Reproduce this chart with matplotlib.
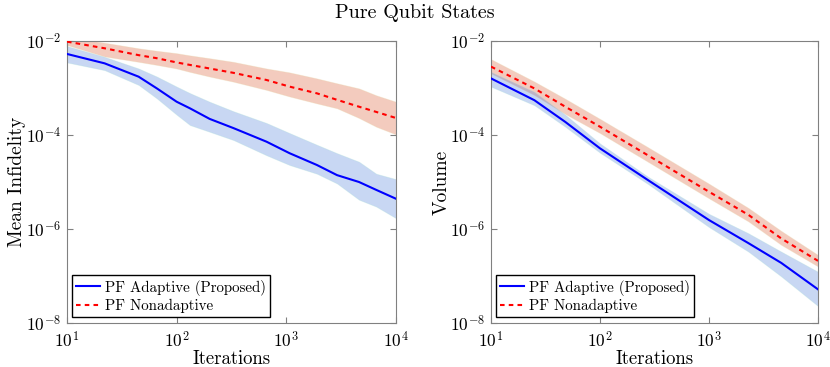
import math
import matplotlib
matplotlib.use("Agg")
import matplotlib.pyplot as plt
from matplotlib.ticker import FixedLocator, FuncFormatter, NullLocator

plt.rcParams['font.family'] = ['cmr10', 'DejaVu Serif']
plt.rcParams['mathtext.fontset'] = 'cm'
plt.rcParams['axes.formatter.use_mathtext'] = True

# ---- data: left panel (Mean Infidelity) ----
iters_l = [10, 22, 45, 66, 100, 132, 200, 330, 660, 1070, 1900, 2900, 4600, 6600, 10000]
adaptive_l = [5.3e-3, 3.35e-3, 1.74e-3, 9.8e-4, 5.1e-4, 3.7e-4, 2.2e-4, 1.4e-4,
              7.2e-5, 4.1e-5, 2.3e-5, 1.4e-5, 1.0e-5, 6.8e-6, 4.4e-6]
adaptive_l_hi = [7.8e-3, 4.6e-3, 2.6e-3, 1.75e-3, 1.07e-3, 7.8e-4, 5.1e-4, 3.2e-4,
                 1.8e-4, 1.1e-4, 6.2e-5, 4.1e-5, 2.7e-5, 1.5e-5, 1.15e-5]
adaptive_l_lo = [3.5e-3, 2.4e-3, 1.16e-3, 6.0e-4, 2.7e-4, 1.63e-4, 1.17e-4, 7.8e-5,
                 3.7e-5, 2.3e-5, 1.5e-5, 9.3e-6, 4.2e-6, 3.0e-6, 1.7e-6]
nonadapt_l = [9.7e-3, 7.0e-3, 5.0e-3, 4.3e-3, 3.5e-3, 3.1e-3, 2.6e-3, 2.1e-3,
              1.48e-3, 1.07e-3, 7.7e-4, 5.6e-4, 4.0e-4, 3.1e-4, 2.3e-4]
nonadapt_l_hi = [1.2e-2, 9.2e-3, 7.0e-3, 6.2e-3, 5.5e-3, 4.95e-3, 4.3e-3, 3.6e-3,
                 2.6e-3, 2.15e-3, 1.6e-3, 1.26e-3, 9.8e-4, 7.0e-4, 5.1e-4]
nonadapt_l_lo = [8.2e-3, 4.7e-3, 3.6e-3, 3.1e-3, 2.6e-3, 2.2e-3, 1.75e-3, 1.36e-3,
                 9.1e-4, 6.6e-4, 4.7e-4, 3.7e-4, 2.3e-4, 1.5e-4, 1.03e-4]

# ---- data: right panel (Volume) ----
iters_r = [10, 25, 48, 100, 275, 1000, 2300, 4600, 10000]
adaptive_r = [1.6e-3, 5.5e-4, 1.9e-4, 5.2e-5, 1.1e-5, 1.55e-6, 5.0e-7, 1.9e-7, 5.2e-8]
adaptive_r_hi = [2.2e-3, 8.3e-4, 2.7e-4, 6.6e-5, 1.3e-5, 2.1e-6, 8.1e-7, 3.3e-7, 1.23e-7]
adaptive_r_lo = [1.07e-3, 4.3e-4, 1.5e-4, 4.2e-5, 9.1e-6, 1.1e-6, 3.3e-7, 9.8e-8, 2.3e-8]
nonadapt_r = [2.85e-3, 9.8e-4, 4.0e-4, 1.5e-4, 3.7e-5, 6.2e-6, 2.0e-6, 6.3e-7, 2.1e-7]
nonadapt_r_hi = [4.1e-3, 1.37e-3, 5.9e-4, 2.2e-4, 5.5e-5, 9.2e-6, 2.8e-6, 9.1e-7, 2.8e-7]
nonadapt_r_lo = [2.05e-3, 7.1e-4, 2.8e-4, 1.1e-4, 2.7e-5, 4.5e-6, 1.45e-6, 4.6e-7, 1.6e-7]

title = "Pure Qubit States"
xlabel = "Iterations"
ylabels = ["Mean Infidelity", "Volume"]
legend_labels = ["PF Adaptive (Proposed)", "PF Nonadaptive"]
xticks = [1e1, 1e2, 1e3, 1e4]
yticks = [1e-8, 1e-6, 1e-4, 1e-2]

BLUE = '#0000ff'
RED = '#ff0000'
BLUE_FILL = '#4a7bd8'
RED_FILL = '#d9542a'
SPINE = '#808080'

fig = plt.figure(figsize=(8.3, 3.67), dpi=100)
ax1 = fig.add_axes([67/830, 44/367, 329/830, 282/367])
ax2 = fig.add_axes([491/830, 44/367, 327/830, 282/367])

panels = [
    (ax1, iters_l, adaptive_l, adaptive_l_lo, adaptive_l_hi, nonadapt_l, nonadapt_l_lo, nonadapt_l_hi),
    (ax2, iters_r, adaptive_r, adaptive_r_lo, adaptive_r_hi, nonadapt_r, nonadapt_r_lo, nonadapt_r_hi),
]

fmt = FuncFormatter(lambda v, p: r'$10^{%d}$' % round(math.log10(v)))

for i, (ax, x, a, alo, ahi, n, nlo, nhi) in enumerate(panels):
    ax.set_xscale('log')
    ax.set_yscale('log')
    ax.fill_between(x, nlo, nhi, color=RED_FILL, alpha=0.3, lw=0.6,
                    edgecolor='#e8d8a8', zorder=1)
    ax.fill_between(x, alo, ahi, color=BLUE_FILL, alpha=0.3, lw=0.6,
                    edgecolor='#a8e0d8', zorder=2)
    l1, = ax.plot(x, a, color=BLUE, lw=1.5, zorder=4)
    l2, = ax.plot(x, n, color=RED, lw=1.5, ls=(0, (2.2, 2.0)), zorder=3)
    ax.set_xlim(10, 1e4)
    ax.set_ylim(1e-8, 1e-2)
    ax.xaxis.set_major_locator(FixedLocator(xticks))
    ax.yaxis.set_major_locator(FixedLocator(yticks))
    ax.xaxis.set_minor_locator(NullLocator())
    ax.yaxis.set_minor_locator(NullLocator())
    ax.xaxis.set_major_formatter(fmt)
    ax.yaxis.set_major_formatter(fmt)
    ax.tick_params(which='both', direction='in', top=True, right=True,
                   length=4, width=0.8, color=SPINE, labelsize=12.5)
    ax.tick_params(axis='x', pad=5)
    ax.tick_params(axis='y', pad=4)
    for s in ax.spines.values():
        s.set_color(SPINE)
        s.set_linewidth(0.8)
    ax.set_xlabel(xlabel, fontsize=13.5, labelpad=0)
    ax.set_ylabel(ylabels[i], fontsize=14, labelpad=0)
    leg = ax.legend([l1, l2], legend_labels, loc='lower left',
                    bbox_to_anchor=(0.015, 0.02), fontsize=10.8,
                    frameon=True, fancybox=False, framealpha=1,
                    edgecolor='black', handlelength=1.6, handletextpad=0.3,
                    borderpad=0.3, labelspacing=0.2, borderaxespad=0)
    leg.get_frame().set_linewidth(1.0)

fig.text(0.5, 0.965, title, ha='center', va='center', fontsize=14.5)

fig.savefig('out.png', dpi=100)
